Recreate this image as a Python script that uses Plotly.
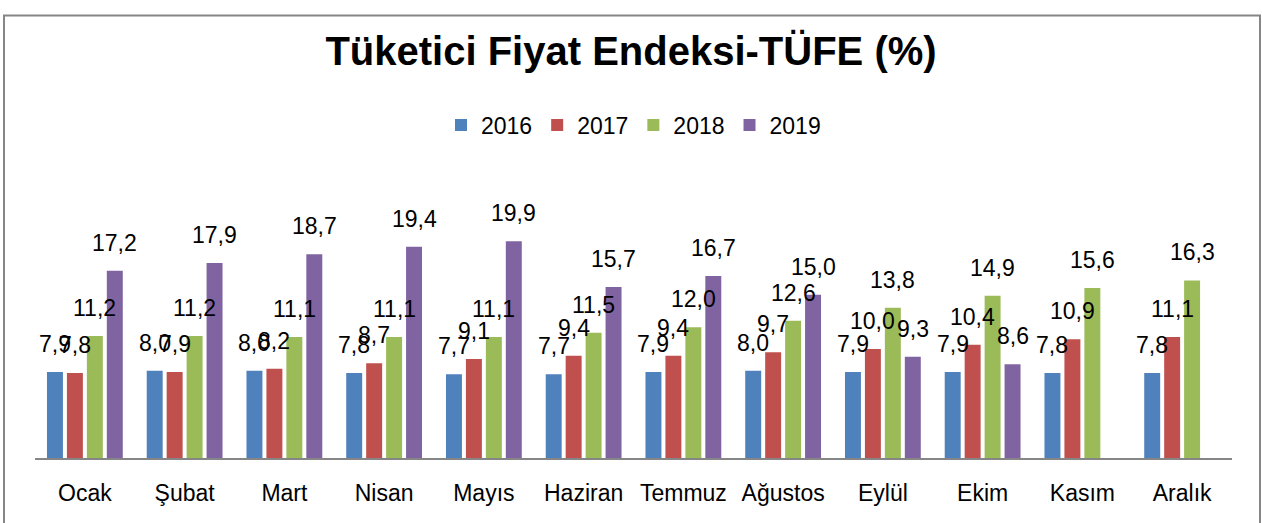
import plotly.graph_objects as go

months = ["Ocak", "Şubat", "Mart", "Nisan", "Mayıs", "Haziran", "Temmuz",
          "Ağustos", "Eylül", "Ekim", "Kasım", "Aralık"]
years = ["2016", "2017", "2018", "2019"]
v2016 = [7.9, 8.0, 8.0, 7.8, 7.7, 7.7, 7.9, 8.0, 7.9, 7.9, 7.8, 7.8]
v2017 = [7.8, 7.9, 8.2, 8.7, 9.1, 9.4, 9.4, 9.7, 10.0, 10.4, 10.9, 11.1]
v2018 = [11.2, 11.2, 11.1, 11.1, 11.1, 11.5, 12.0, 12.6, 13.8, 14.9, 15.6, 16.3]
v2019 = [17.2, 17.9, 18.7, 19.4, 19.9, 15.7, 16.7, 15.0, 9.3, 8.6, None, None]
colors = ["#4F81BD", "#C0504D", "#9BBB59", "#8064A2"]

series = [v2016, v2017, v2018, v2019]
FONT = "Liberation Sans"
offsets = [-0.3, -0.1, 0.1, 0.3]
BW = 0.16

fig = go.Figure()
annotations = []
for name, vals, col, off in zip(years, series, colors, offsets):
    xs = [i + off for i in range(len(months))]
    fig.add_trace(go.Bar(
        x=xs, y=vals, name=name, width=BW,
        marker=dict(color=col, line=dict(width=0)),
    ))
    for x, v in zip(xs, vals):
        if v is None:
            continue
        annotations.append(dict(
            x=x, y=v, xref="x", yref="y", text=f"{v:.1f}".replace(".", ","),
            showarrow=False, yanchor="bottom", xanchor="center", yshift=13,
            font=dict(family=FONT, size=23, color="black"),
        ))

L, R, T, B = 35, 30, 150, 65
fig.update_layout(
    width=1262, height=523,
    margin=dict(l=L, r=R, t=T, b=B),
    paper_bgcolor="white", plot_bgcolor="white",
    barmode="overlay",
    title=dict(text="<b>Tüketici Fiyat Endeksi-TÜFE (%)</b>",
               x=0.5, xanchor="center", y=1 - 51 / 523, yanchor="middle",
               font=dict(family=FONT, size=40, color="black")),
    legend=dict(orientation="h", x=0.5, xanchor="center", y=1 - 125 / 523,
                yref="container", yanchor="middle",
                font=dict(family=FONT, size=23, color="black"),
                itemwidth=30, traceorder="normal"),
    showlegend=True,
    annotations=annotations,
    xaxis=dict(showline=True, linecolor="#868686", linewidth=2, ticks="",
               range=[-0.5, len(months) - 0.5],
               tickmode="array", tickvals=list(range(len(months))), ticktext=months,
               tickfont=dict(family=FONT, size=23, color="black"),
               ticklabelstandoff=13, showgrid=False, zeroline=False),
    yaxis=dict(visible=False, range=[0, 308 / 11.2], showgrid=False),
)

pw = 1262 - L - R
ph = 523 - T - B
fig.add_shape(type="rect", xref="paper", yref="paper",
              x0=(4 - L) / pw, x1=(1260 - L) / pw,
              y0=(458 - 530) / ph, y1=(458 - 3) / ph,
              line=dict(color="#868686", width=2), fillcolor="rgba(0,0,0,0)",
              layer="below")

fig.write_html("out.html")
